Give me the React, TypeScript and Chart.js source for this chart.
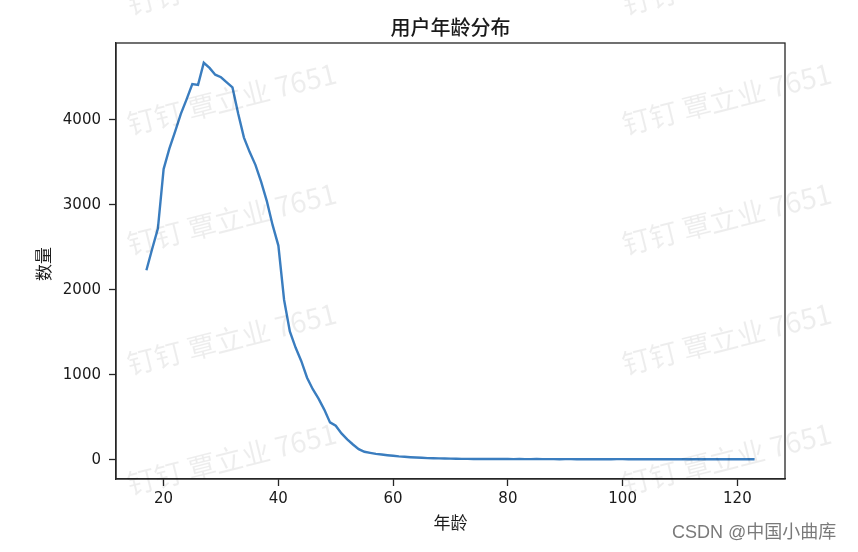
import React, { useEffect, useRef } from "react";
import { Chart, registerables } from "chart.js";

Chart.register(...registerables);

const ages = [
  17, 18, 19, 20, 21, 22, 23, 24, 25, 26, 27, 28, 29, 30, 31, 32, 33, 34, 35, 36,
  37, 38, 39, 40, 41, 42, 43, 44, 45, 46, 47, 48, 49, 50, 51, 52, 53, 54, 55, 56,
  57, 58, 59, 60, 61, 62, 63, 64, 65, 66, 67, 68, 69, 70, 71, 72, 73, 74, 75, 76,
  77, 78, 79, 80, 81, 82, 83, 84, 85, 86, 87, 88, 89, 90, 91, 92, 93, 94, 95, 96,
  97, 98, 99, 100, 101, 102, 103, 104, 105, 106, 107, 108, 109, 110, 111, 112,
  113, 114, 115, 116, 117, 118, 119, 120, 121, 122, 123,
];

const counts = [
  2230, 2480, 2720, 3420, 3660, 3860, 4070, 4240, 4420, 4410, 4670, 4610, 4530, 4500, 4440, 4380,
  4070, 3790, 3620, 3470, 3270, 3040, 2760, 2520, 1880, 1510, 1320, 1160, 965, 830, 720, 590,
  440, 400, 310, 240, 180, 125, 94, 82, 70, 62, 54, 47, 40, 35, 30, 26, 23, 20, 18, 16, 15, 14,
  12, 11, 11, 10, 10, 9, 9, 10, 9, 9, 8, 9, 8, 8, 9, 8, 8, 8, 7, 8, 8, 7, 8, 7, 8, 7, 8, 7, 8,
  8, 7, 8, 7, 8, 7, 7, 8, 7, 8, 7, 7, 8, 7, 7, 8, 7, 7, 8, 7, 7, 7, 8, 7,
];

const xTicks = [20, 40, 60, 80, 100, 120];
const yTicks = [0, 1000, 2000, 3000, 4000];

const titleText = "用户年龄分布";
const xLabel = "年龄";
const yLabel = "数量";
const watermarkText = "钉钉 覃立业 7651";
const creditText = "CSDN @中国小曲库";

export default function App() {
  const ref = useRef<HTMLCanvasElement | null>(null);

  useEffect(() => {
    const canvas = ref.current;
    if (!canvas) return;
    const xMinD = Math.min(...ages);
    const xMaxD = Math.max(...ages);
    const xPad = (xMaxD - xMinD) * 0.05;
    const yMinD = Math.min(...counts);
    const yMaxD = Math.max(...counts);
    const yPad = (yMaxD - yMinD) * 0.05;

    const decor = {
      id: "decor",
      afterDraw(chart: any) {
        const { ctx, chartArea: a } = chart;
        ctx.save();
        ctx.strokeStyle = "#262626";
        ctx.lineWidth = 1.3;
        ctx.strokeRect(a.left, a.top, a.right - a.left, a.bottom - a.top);

        ctx.fillStyle = "#1a1a1a";
        ctx.textAlign = "center";
        ctx.textBaseline = "middle";
        ctx.font = '500 20px "Noto Sans CJK SC"';
        ctx.fillText(titleText, (a.left + a.right) / 2, 27);
        ctx.font = '17px "Noto Sans CJK SC"';
        ctx.fillText(xLabel, (a.left + a.right) / 2, 523);
        ctx.save();
        ctx.translate(44, 264);
        ctx.rotate(-Math.PI / 2);
        ctx.fillText(yLabel, 0, 0);
        ctx.restore();

        ctx.textAlign = "left";
        ctx.font = '18px "Liberation Sans", "Noto Sans CJK SC"';
        ctx.fillStyle = "#7a7a7a";
        ctx.fillText(creditText, 672, 533);

        ctx.font = '28px "Noto Sans CJK SC"';
        ctx.fillStyle = "rgba(0,0,0,0.07)";
        ctx.textBaseline = "alphabetic";
        for (const x of [130, 625]) {
          for (const y of [15, 135, 255, 375, 495]) {
            ctx.save();
            ctx.translate(x, y);
            ctx.rotate((-14 * Math.PI) / 180);
            ctx.fillText(watermarkText, 0, 0);
            ctx.restore();
          }
        }
        ctx.restore();
      },
    };

    const tickFont = { family: "DejaVu Sans", size: 15 };
    const chart = new Chart(canvas, {
      type: "line",
      data: {
        datasets: [
          {
            data: ages.map((a, i) => ({ x: a, y: counts[i] })),
            borderColor: "#3a7dbf",
            borderWidth: 2.4,
            pointRadius: 0,
            tension: 0,
            fill: false,
          },
        ],
      },
      options: {
        responsive: false,
        animation: false,
        devicePixelRatio: 1,
        layout: { padding: { top: 43, right: 73, left: 0, bottom: 0 } },
        plugins: {
          legend: { display: false },
          tooltip: { enabled: false },
          title: { display: false },
        },
        scales: {
          x: {
            type: "linear",
            min: xMinD - xPad,
            max: xMaxD + xPad,
            afterBuildTicks: (s: any) => {
              s.ticks = xTicks.map((v) => ({ value: v }));
            },
            afterFit: (s: any) => {
              s.height = 73;
            },
            grid: {
              display: true,
              drawOnChartArea: false,
              drawTicks: true,
              tickLength: 7,
              tickWidth: 1.3,
              tickColor: "#262626",
            },
            border: { display: true, color: "#262626", width: 1.3 },
            ticks: {
              font: tickFont,
              color: "#1a1a1a",
              padding: 4,
              maxRotation: 0,
              autoSkip: false,
              callback: (v: any) => String(v),
            },
          },
          y: {
            type: "linear",
            min: yMinD - yPad,
            max: yMaxD + yPad,
            afterBuildTicks: (s: any) => {
              s.ticks = yTicks.map((v) => ({ value: v }));
            },
            afterFit: (s: any) => {
              s.width = 116;
            },
            grid: {
              display: true,
              drawOnChartArea: false,
              drawTicks: true,
              tickLength: 7,
              tickWidth: 1.3,
              tickColor: "#262626",
            },
            border: { display: true, color: "#262626", width: 1.3 },
            ticks: {
              font: tickFont,
              color: "#1a1a1a",
              padding: 8,
              autoSkip: false,
              callback: (v: any) => String(v),
            },
          },
        },
      },
      plugins: [decor],
    } as any);

    return () => {
      chart.destroy();
    };
  }, []);

  return (
    <div style={{ position: "fixed", left: 0, top: 0, width: 858, height: 552, background: "#fff" }}>
      <canvas ref={ref} width={858} height={552} style={{ display: "block", width: 858, height: 552 }} />
    </div>
  );
}
